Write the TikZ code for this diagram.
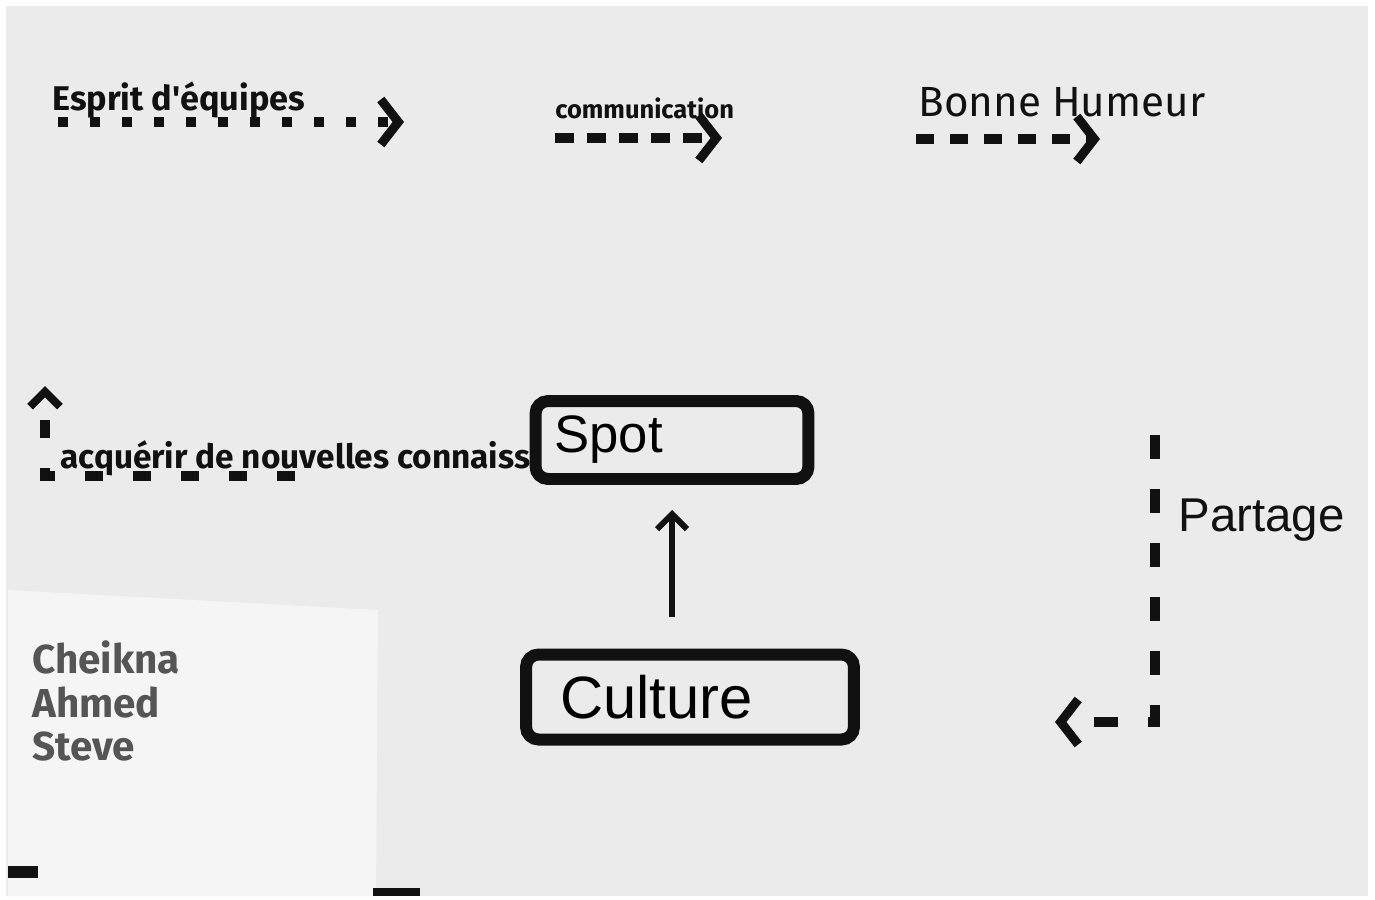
\documentclass[tikz,border=0pt]{standalone}
\usepackage{fontspec}
\usetikzlibrary{arrows.meta}
\newfontfamily\markerfont{Fira Sans}
\newfontfamily\penfont{Liberation Sans}
\definecolor{paper}{HTML}{EBEBEB}
\definecolor{sheet}{HTML}{F5F5F5}
\definecolor{ink}{HTML}{111111}
\definecolor{namegray}{HTML}{555555}
\tikzset{
  markertext/.style={font=\markerfont\bfseries, text=ink, inner sep=0pt},
  pentext/.style={font=\penfont, text=ink, inner sep=0pt},
  stepbox/.style={draw=ink, line width=0.24cm, rounded corners=0.25cm, fill=none},
  dasharrow/.style={draw=ink, line width=0.2cm, -{Straight Barb[length=0.35cm,width=0.9cm,line width=0.18cm]}},
  smallhead/.style={-{Straight Barb[length=0.3cm,width=0.6cm,line width=0.16cm]}},
  solidarrow/.style={draw=ink, line width=0.12cm, -{Straight Barb[length=0.3cm,width=0.6cm,line width=0.12cm]}}
}
\begin{document}
\begin{tikzpicture}[x=0.02cm,y=-0.02cm]
\useasboundingbox (0,0) rectangle (1375,899);
\fill[white] (0,0) rectangle (1375,899);
\fill[paper] (6,6) rectangle (1368,896);
\fill[sheet] (8,590) -- (378,610) -- (376,896) -- (8,896) -- cycle;
\fill[ink] (373,888) rectangle (420,896);
\fill[ink] (8,866) rectangle (38,878);

% top row
\node[markertext, font=\markerfont\bfseries\fontsize{19.5}{21}\selectfont, anchor=west] (esprit) at (52,100) {Esprit d'équipes};
\coordinate (e1) at (58,122);
\coordinate (e2) at (404,122);
\draw[dasharrow, dash pattern=on 0.2cm off 0.44cm] (e1) -- (e2);

\node[markertext, font=\markerfont\bfseries\fontsize{14.5}{17}\selectfont, anchor=west] (comm) at (555,108) {communication};
\coordinate (c1) at (555,138);
\coordinate (c2) at (722,138);
\draw[dasharrow, dash pattern=on 0.38cm off 0.26cm] (c1) -- (c2);

\node[markertext, font=\markerfont\fontsize{24}{26}\selectfont, anchor=west] (bonne) at (918,102) {Bonne Humeur};
\coordinate (b1) at (916,139);
\coordinate (b2) at (1100,139);
\draw[dasharrow, dash pattern=on 0.36cm off 0.32cm] (b1) -- (b2);

% boxes
\node[stepbox, minimum width=5.46cm, minimum height=1.56cm, text width=4.7cm, inner xsep=0.38cm, align=left,
      font=\penfont\fontsize{30}{32}\selectfont] (spot) at (672,440) {Spot};
\node[stepbox, minimum width=6.56cm, minimum height=1.7cm, text width=5.2cm, inner xsep=0.68cm, align=left,
      font=\penfont\fontsize{34}{36}\selectfont] (culture) at (690,697) {Culture};
\draw[solidarrow, shorten <=0.64cm, shorten >=0.5cm] (spot.south |- culture.north) -- (spot.south);

% acquerir
\node[markertext, font=\markerfont\bfseries\fontsize{19}{21}\selectfont, anchor=west] (acq) at (60,458) {acquérir de nouvelles connaiss};
\coordinate (a1) at (295,476);
\coordinate (a2) at (45,386);
\draw[dasharrow, smallhead, dash pattern=on 0.36cm off 0.6cm] (a1) -| (a2);

% partage
\coordinate (p1) at (1155,435);
\coordinate (p2) at (1055,722);
\draw[dasharrow, dash pattern=on 0.48cm off 0.6cm] (p1) |- (p2);
\node[pentext, font=\penfont\fontsize{27}{29}\selectfont, anchor=west] (partage) at (1178,520) {Partage};

% names
\node[markertext, font=\markerfont\bfseries\fontsize{23}{25}\selectfont, text=namegray, anchor=north west, align=left] (names) at (32,640) {Cheikna\\Ahmed\\Steve};
\end{tikzpicture}
\end{document}
